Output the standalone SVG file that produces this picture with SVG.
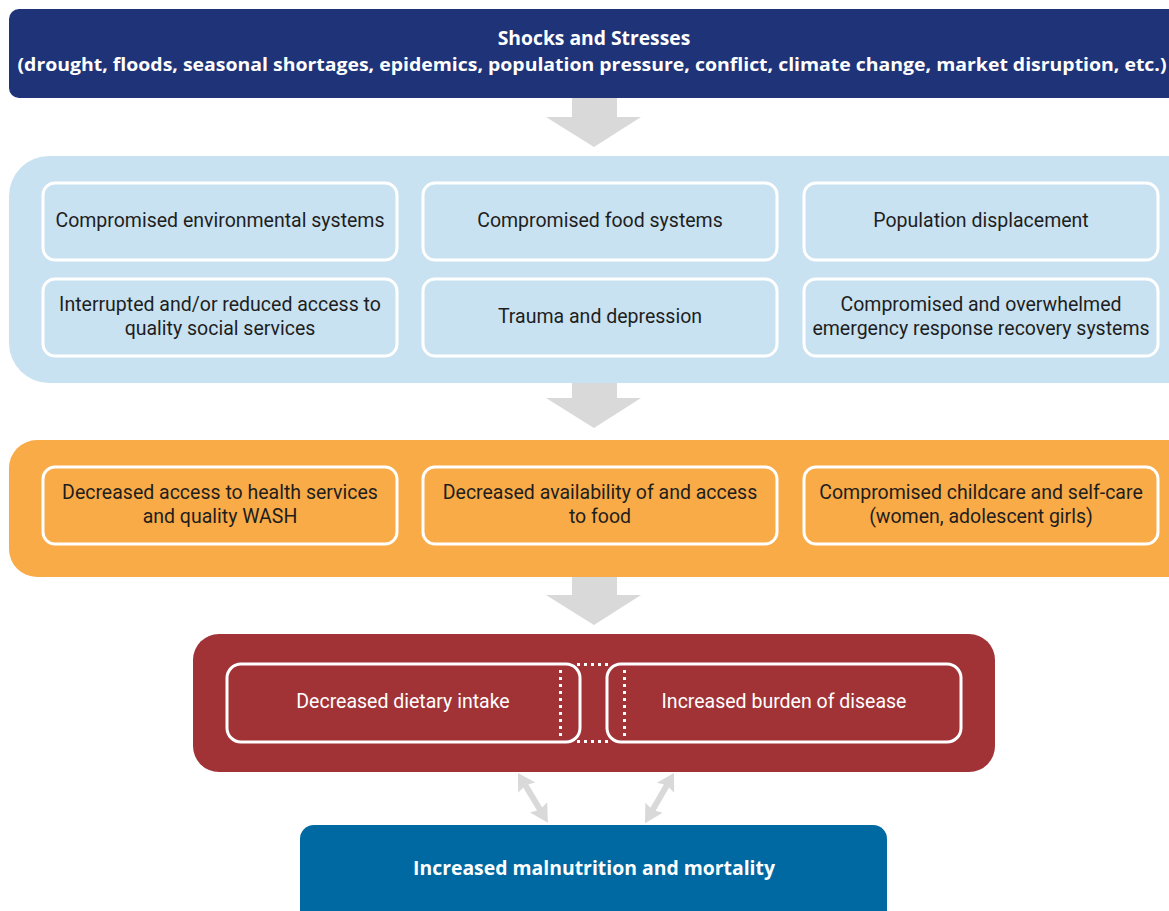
<svg xmlns="http://www.w3.org/2000/svg" width="1169" height="911" viewBox="0 0 1169 911">
  <style>
    .title { font-family: "Open Sans", "Liberation Sans", sans-serif; font-weight: 700; fill: #ffffff; text-anchor: middle; }
    .body { font-family: Roboto, "Liberation Sans", sans-serif; font-size: 19.5px; text-anchor: middle; }
    .dark { fill: #1e1e1e; }
    .light { fill: #ffffff; }
    .inner { stroke: #ffffff; stroke-width: 3; }
    .flow { fill: #d9d9d9; }
    .dots { stroke: #ffffff; stroke-width: 3; stroke-dasharray: 3 4; fill: none; }
  </style>
  <defs>
    <!-- large downward block arrow, tip at origin -->
    <polygon id="down" points="-22,-49 23,-49 23,-30 47,-30 0,0 -48,-30 -22,-30"/>
    <!-- slim two-headed arrow along the x axis -->
    <polygon id="both" points="0,0 17,-10 15,-3 42,-3 40,-10 58,0 40,10 42,3 15,3 17,10"/>
  </defs>

  <rect width="1169" height="911" fill="#ffffff"/>

  <!-- connectors -->
  <g id="connectors" class="flow">
    <use href="#down" x="594" y="147"/>
    <use href="#down" x="594" y="428"/>
    <use href="#down" x="594" y="625"/>
    <use href="#both" transform="translate(518,773) rotate(59)"/>
    <use href="#both" transform="translate(674,773) rotate(120)"/>
  </g>

  <!-- top: shocks and stresses -->
  <g id="shocks">
    <rect x="9" y="9" width="1180" height="89" rx="10" fill="#1f3478"/>
    <text class="title" x="594" y="45" font-size="19.3">Shocks and Stresses</text>
    <text class="title" x="592" y="71" font-size="18" textLength="1149" lengthAdjust="spacingAndGlyphs">(drought, floods, seasonal shortages, epidemics, population pressure, conflict, climate change, market disruption, etc.)</text>
  </g>

  <!-- underlying conditions -->
  <g id="conditions">
    <rect x="9" y="156" width="1200" height="227" rx="40" fill="#c9e2f1"/>
    <g id="env">
      <rect class="inner" x="43" y="183" width="354" height="77" rx="12" fill="#c9e2f1"/>
      <text class="body dark" x="220" y="227">Compromised environmental systems</text>
    </g>
    <g id="food-systems">
      <rect class="inner" x="423" y="183" width="354" height="77" rx="12" fill="#c9e2f1"/>
      <text class="body dark" x="600" y="227">Compromised food systems</text>
    </g>
    <g id="displacement">
      <rect class="inner" x="804" y="183" width="354" height="77" rx="12" fill="#c9e2f1"/>
      <text class="body dark" x="981" y="227">Population displacement</text>
    </g>
    <g id="social">
      <rect class="inner" x="43" y="279" width="354" height="77" rx="12" fill="#c9e2f1"/>
      <text class="body dark" x="220" y="311">Interrupted and/or reduced access to</text>
      <text class="body dark" x="220" y="335">quality social services</text>
    </g>
    <g id="trauma">
      <rect class="inner" x="423" y="279" width="354" height="77" rx="12" fill="#c9e2f1"/>
      <text class="body dark" x="600" y="323">Trauma and depression</text>
    </g>
    <g id="emergency">
      <rect class="inner" x="804" y="279" width="354" height="77" rx="12" fill="#c9e2f1"/>
      <text class="body dark" x="981" y="311">Compromised and overwhelmed</text>
      <text class="body dark" x="981" y="335">emergency response recovery systems</text>
    </g>
  </g>

  <!-- household-level effects -->
  <g id="effects">
    <rect x="9" y="440" width="1200" height="137" rx="28" fill="#f9ab47"/>
    <g id="health">
      <rect class="inner" x="43" y="467" width="354" height="77" rx="12" fill="#f9ab47"/>
      <text class="body dark" x="220" y="499">Decreased access to health services</text>
      <text class="body dark" x="220" y="523">and quality WASH</text>
    </g>
    <g id="food-access">
      <rect class="inner" x="423" y="467" width="354" height="77" rx="12" fill="#f9ab47"/>
      <text class="body dark" x="600" y="499">Decreased availability of and access</text>
      <text class="body dark" x="600" y="523">to food</text>
    </g>
    <g id="care">
      <rect class="inner" x="804" y="467" width="354" height="77" rx="12" fill="#f9ab47"/>
      <text class="body dark" x="981" y="499">Compromised childcare and self-care</text>
      <text class="body dark" x="981" y="523">(women, adolescent girls)</text>
    </g>
  </g>

  <!-- immediate causes -->
  <g id="immediate">
    <rect x="193" y="634" width="802" height="138" rx="26" fill="#a13337"/>
    <g id="intake">
      <rect class="inner" x="227" y="664" width="353" height="78" rx="14" fill="none"/>
      <text class="body light" x="403" y="708">Decreased dietary intake</text>
    </g>
    <g id="disease">
      <rect class="inner" x="607" y="664" width="354" height="78" rx="14" fill="none"/>
      <text class="body light" x="784" y="708">Increased burden of disease</text>
    </g>
    <g id="overlap">
      <line class="dots" x1="560.5" y1="670" x2="560.5" y2="740"/>
      <line class="dots" x1="624.5" y1="670" x2="624.5" y2="740"/>
      <line class="dots" x1="577" y1="664.5" x2="612" y2="664.5"/>
      <line class="dots" x1="577" y1="741.5" x2="612" y2="741.5"/>
    </g>
  </g>

  <!-- outcome -->
  <g id="outcome">
    <rect x="300" y="825" width="587" height="110" rx="14" fill="#0069a2"/>
    <text class="title" x="594" y="875" font-size="19.4">Increased malnutrition and mortality</text>
  </g>
</svg>
